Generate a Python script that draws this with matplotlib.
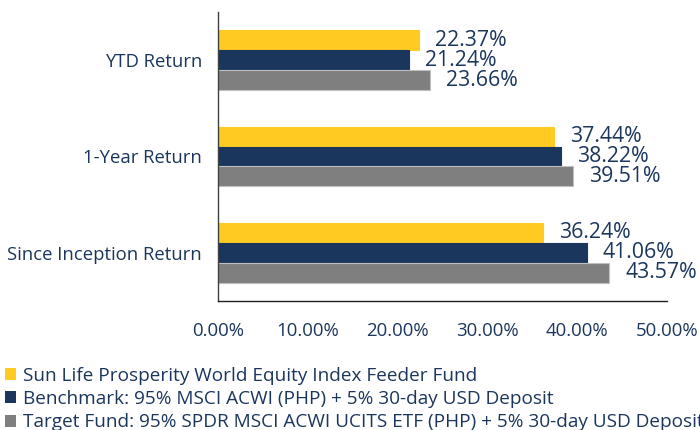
import matplotlib
matplotlib.use("Agg")
import matplotlib.pyplot as plt
import numpy as np
from matplotlib.patches import Patch

categories = ["YTD Return", "1-Year Return", "Since Inception Return"]
series_names = [
    "Sun Life Prosperity World Equity Index Feeder Fund",
    "Benchmark: 95% MSCI ACWI (PHP) + 5% 30-day USD Deposit",
    "Target Fund: 95% SPDR MSCI ACWI UCITS ETF (PHP) + 5% 30-day USD Deposit",
]
fund = [22.37, 37.44, 36.24]
benchmark = [21.24, 38.22, 41.06]
target = [23.66, 39.51, 43.57]
xticks = [0, 10, 20, 30, 40, 50]
xtick_labels = ["0.00%", "10.00%", "20.00%", "30.00%", "40.00%", "50.00%"]

colors = ["#FFCA22", "#1B365D", "#7F7F7F"]
edges = ["#FFCA22", "#1B365D", "#BFBFBF"]
text_color = "#1B365D"

plt.rcParams["font.family"] = ["Open Sans", "DejaVu Sans"]

fig = plt.figure(figsize=(7, 4.3), dpi=100)
ax = fig.add_axes([218 / 700, 1 - 301 / 430, (667 - 218) / 700, (301 - 12) / 430])

y = np.arange(len(categories))
h = 0.207
all_series = [fund, benchmark, target]
offsets = [-h, 0, h]
handles = []
for vals, off, c, ec, name in zip(all_series, offsets, colors, edges, series_names):
    bars = ax.barh(y + off, vals, height=h, color=c, edgecolor=ec, linewidth=0.8, label=name)
    for b, v in zip(bars, vals):
        ax.annotate(f"{v:.2f}%", xy=(v, b.get_y() + b.get_height() / 2),
                    xytext=(11.5, 0), textcoords="offset points",
                    ha="left", va="center", fontsize=15.3, color=text_color)
    handles.append(Patch(facecolor=c, edgecolor="none", label=name))

ax.set_xlim(0, 50)
ax.set_ylim(2.5, -0.5)
ax.set_yticks(y)
ax.set_yticklabels(categories, fontsize=13.3, color=text_color)
ax.set_xticks(xticks)
ax.set_xticklabels(xtick_labels, fontsize=13.4, color=text_color)
ax.tick_params(axis="both", length=0)
ax.tick_params(axis="y", pad=11.5)
ax.tick_params(axis="x", pad=15)
for s in ["top", "right"]:
    ax.spines[s].set_visible(False)
ax.spines["left"].set_color("#404040")
ax.spines["bottom"].set_color("#202020")
ax.spines["left"].set_linewidth(1.0)
ax.spines["bottom"].set_linewidth(1.0)

leg = fig.legend(handles=handles, loc="upper left",
                 frameon=False, fontsize=13.7, handlelength=0.6, handleheight=0.6,
                 handletextpad=0.35, labelspacing=0.27, borderpad=0, borderaxespad=0)
leg.set_bbox_to_anchor((5 / 700, 1 - 367 / 430), transform=fig.transFigure)
for t in leg.get_texts():
    t.set_color(text_color)

fig.savefig("out.png", dpi=100)
